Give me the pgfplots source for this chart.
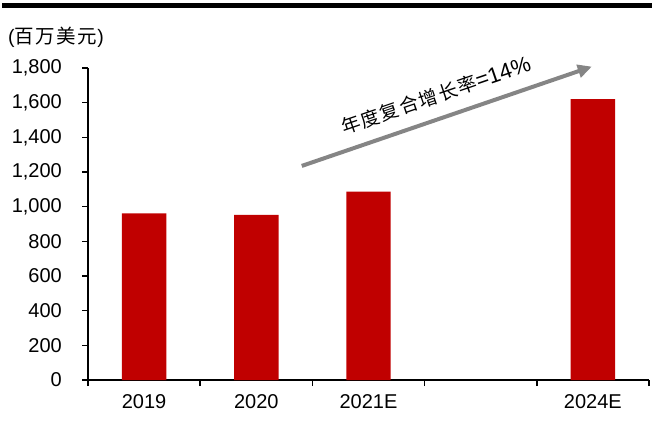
\documentclass[border=0pt]{standalone}
\usepackage{fontspec}
\setmainfont{Liberation Sans}
\newfontfamily\cjk[LetterSpace=8]{Noto Sans CJK SC}
\usepackage{pgfplots}
\pgfplotsset{compat=1.18}
\usetikzlibrary{arrows.meta}
\definecolor{barred}{HTML}{C00000}
\definecolor{arrowgray}{HTML}{858585}
\begin{document}
\begin{tikzpicture}[x=1bp,y=1bp]
\path[use as bounding box] (0,0) rectangle (652,421);
\fill[black] (2,413) rectangle (652,417.5);
\node[anchor=west,inner sep=0pt,font=\fontsize{19.5bp}{22bp}\selectfont] at (8,384) {({\cjk 百万美元})};
\begin{axis}[
  at={(88bp,41bp)}, anchor=south west,
  scale only axis, width=561bp, height=312bp,
  xmin=-0.5, xmax=4.5, ymin=0, ymax=1800,
  axis x line=bottom, axis y line=left,
  axis line style={-, line width=1.6bp, black},
  xtick={0,1,2,3,4},
  xticklabels={2019,2020,2021E,,2024E},
  minor xtick={-0.5,0.5,1.5,2.5,3.5,4.5},
  major x tick style={draw=none},
  minor x tick style={line width=1.6bp, black},
  minor tick length=6bp,
  ytick={0,200,...,1800},
  major tick length=6bp,
  y tick style={line width=1.6bp, black},
  tick align=outside,
  /pgf/number format/.cd, 1000 sep={,}, assume math mode=true,
  /pgfplots/.cd,
  ticklabel style={font=\fontsize{20bp}{24bp}\selectfont},
  yticklabel style={anchor=east, inner sep=0pt, xshift=-20bp},
  xticklabel style={anchor=north, inner sep=0pt, yshift=-8bp},
  ybar, bar width=0.396,
  clip=false,
]
\addplot[fill=barred, draw=none] coordinates {(0,961) (1,952) (2,1087) (4,1621)};
\draw[arrowgray, line width=4bp, -{Triangle[length=14bp,width=13bp]}] (axis cs:1.405,1235) -- (axis cs:3.99,1808);
\node[rotate=18.9, inner sep=0pt] at (axis cs:2.6,1640) {{\cjk\fontsize{19bp}{22bp}\selectfont 年度复合增长率}{\fontsize{22bp}{24bp}\selectfont =14\%}};
\end{axis}
\end{tikzpicture}
\end{document}
